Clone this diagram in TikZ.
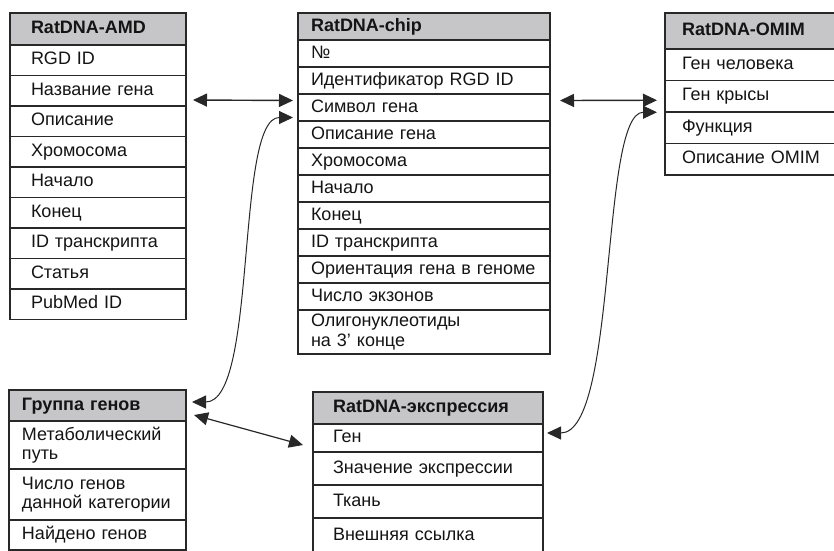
\documentclass[tikz,border=0pt]{standalone}
\usepackage{fontspec}
\setmainfont{Liberation Sans}
\usetikzlibrary{arrows.meta,calc}
\definecolor{hg}{RGB}{198,198,200}
\definecolor{lc}{RGB}{40,40,40}
\definecolor{tc}{RGB}{20,20,20}
\begin{document}
\begin{tikzpicture}[x=1pt,y=-1pt,
  base/.style={draw=lc, line width=1.2pt, fill=white, anchor=north west, outer sep=0pt,
    inner xsep=0pt, inner ysep=0pt, align=left, text=tc, font=\fontsize{18}{19.5}\selectfont},
  cell/.style={base, text height=13pt, text depth=4pt},
  mcell/.style={base},
  hd/.style={cell, fill=hg, font=\fontsize{18}{19.5}\selectfont\bfseries},
  tip/.style={Triangle[length=14pt,width=13pt]},
  conn/.style={draw=lc, line width=1.4pt, {Triangle[length=14pt,width=13pt]}-{Triangle[length=14pt,width=13pt]}},
  cconn/.style={draw=lc, line width=1pt, {Triangle[length=14pt,width=13pt]}-{Triangle[length=14pt,width=13pt]}}
]
\useasboundingbox (0,0) rectangle (834,550);
\clip (0,0) rectangle (834,550);
\fill[white] (0,0) rectangle (834,550);

% RatDNA-AMD
\node[hd, text width=176pt, minimum height=32pt] (amd0) at (10,13) {\hspace*{21pt}RatDNA-AMD};
\node[cell, text width=176pt, minimum height=30.5pt] (amd1) at (10,45) {\hspace*{21pt}RGD ID};
\node[cell, text width=176pt, minimum height=30.5pt] (amd2) at (10,75.5) {\hspace*{21pt}Название гена};
\node[cell, text width=176pt, minimum height=30.5pt] (amd3) at (10,106) {\hspace*{21pt}Описание};
\node[cell, text width=176pt, minimum height=30.5pt] (amd4) at (10,136.5) {\hspace*{21pt}Хромосома};
\node[cell, text width=176pt, minimum height=30.5pt] (amd5) at (10,167) {\hspace*{21pt}Начало};
\node[cell, text width=176pt, minimum height=30.5pt] (amd6) at (10,197.5) {\hspace*{21pt}Конец};
\node[cell, text width=176pt, minimum height=30.5pt] (amd7) at (10,228) {\hspace*{21pt}ID транскрипта};
\node[cell, text width=176pt, minimum height=30.5pt] (amd8) at (10,258.5) {\hspace*{21pt}Статья};
\node[cell, text width=176pt, minimum height=30.5pt] (amd9) at (10,289) {\hspace*{21pt}PubMed ID};

% RatDNA-chip
\node[hd, text width=252pt, minimum height=27pt] (chip0) at (298,13) {\hspace*{13pt}RatDNA-chip};
\node[cell, text width=252pt, minimum height=27pt] (chip1) at (298,40) {\hspace*{13pt}№};
\node[cell, text width=252pt, minimum height=27pt] (chip2) at (298,67) {\hspace*{13pt}Идентификатор RGD ID};
\node[cell, text width=252pt, minimum height=27pt] (chip3) at (298,94) {\hspace*{13pt}Символ гена};
\node[cell, text width=252pt, minimum height=27pt] (chip4) at (298,121) {\hspace*{13pt}Описание гена};
\node[cell, text width=252pt, minimum height=27pt] (chip5) at (298,148) {\hspace*{13pt}Хромосома};
\node[cell, text width=252pt, minimum height=27pt] (chip6) at (298,175) {\hspace*{13pt}Начало};
\node[cell, text width=252pt, minimum height=27pt] (chip7) at (298,202) {\hspace*{13pt}Конец};
\node[cell, text width=252pt, minimum height=27pt] (chip8) at (298,229) {\hspace*{13pt}ID транскрипта};
\node[cell, text width=252pt, minimum height=27pt] (chip9) at (298,256) {\hspace*{13pt}Ориентация гена в геноме};
\node[cell, text width=252pt, minimum height=27pt] (chip10) at (298,283) {\hspace*{13pt}Число экзонов};
\node[mcell, text width=252pt, minimum height=44pt] (chip11) at (298,310) {\hspace*{13pt}Олигонуклеотиды\\\hspace*{13pt}на 3’ конце};

% RatDNA-OMIM
\node[hd, text width=175pt, minimum height=36pt] (omim0) at (665,13) {\hspace*{17pt}RatDNA-OMIM};
\node[cell, text width=175pt, minimum height=31.5pt] (omim1) at (665,49) {\hspace*{17pt}Ген человека};
\node[cell, text width=175pt, minimum height=31.5pt] (omim2) at (665,80.5) {\hspace*{17pt}Ген крысы};
\node[cell, text width=175pt, minimum height=31.5pt] (omim3) at (665,112) {\hspace*{17pt}Функция};
\node[cell, text width=175pt, minimum height=31.5pt] (omim4) at (665,143.5) {\hspace*{17pt}Описание OMIM};

% Группа генов
\node[hd, text width=177pt, minimum height=31pt] (grp0) at (9,390) {\hspace*{13pt}Группа генов};
\node[mcell, text width=177pt, minimum height=48pt] (grp1) at (9,421) {\hspace*{13pt}Метаболический\\\hspace*{13pt}путь};
\node[mcell, text width=177pt, minimum height=51pt] (grp2) at (9,469) {\hspace*{13pt}Число генов\\\hspace*{13pt}данной категории};
\node[cell, text width=177pt, minimum height=30pt] (grp3) at (9,520) {\hspace*{13pt}Найдено генов};

% RatDNA-экспрессия
\node[hd, text width=230pt, minimum height=32pt] (expr0) at (313,392) {\hspace*{20pt}RatDNA-экспрессия};
\node[cell, text width=230pt, minimum height=28pt] (expr1) at (313,424) {\hspace*{20pt}Ген};
\node[cell, text width=230pt, minimum height=33pt] (expr2) at (313,452) {\hspace*{20pt}Значение экспрессии};
\node[cell, text width=230pt, minimum height=33pt] (expr3) at (313,485) {\hspace*{20pt}Ткань};
\node[cell, text width=230pt, minimum height=36pt] (expr4) at (313,518) {\hspace*{20pt}Внешняя ссылка};

% connector end points
\coordinate (p1) at ($(amd2.east)+(7,9.25)$);
\coordinate (p2) at ($(chip3.west)+(-5,-7)$);
\coordinate (p3) at ($(chip3.west)+(-5,10)$);
\coordinate (p4) at ($(grp0.east)+(6,-3.5)$);
\coordinate (p5) at ($(chip3.east)+(10,-7)$);
\coordinate (p6) at ($(omim2.west)+(-8,4)$);
\coordinate (p7) at ($(omim2.west)+(-8,16)$);
\coordinate (p8) at ($(expr1.east)+(4,-5)$);
\coordinate (p9) at ($(grp0.east)+(8,9.5)$);
\coordinate (p10) at ($(expr1.west)+(-10,7)$);

\draw[conn] (p1) -- (p2);
\draw[conn] (p5) -- (p6);
\draw[conn, line width=1.2pt] (p9) -- (p10);
\draw[cconn] (p4) .. controls ($(p4)+(66,0)$) and ($(p3)+(-58,0)$) .. (p3);
\draw[cconn] (p8) .. controls ($(p8)+(71,0)$) and ($(p7)+(-57,0)$) .. (p7);
\end{tikzpicture}
\end{document}
